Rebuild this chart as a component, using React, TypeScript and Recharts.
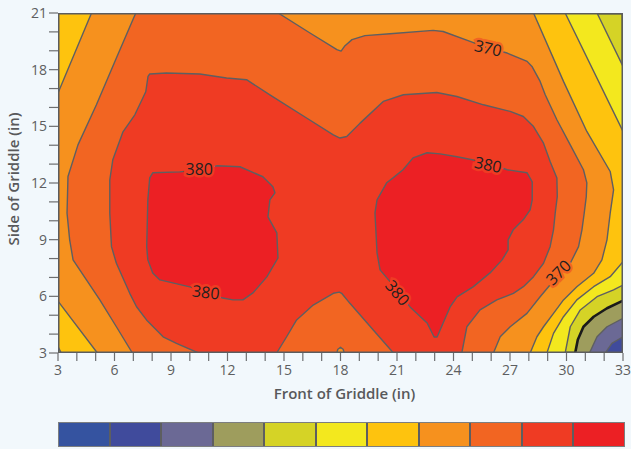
import { ScatterChart, Scatter, XAxis, YAxis } from 'recharts';

// colour of each 5-degree band, from below 335 up to above 380
const levelColors = ['#3553a0', '#404b9c', '#6b6995', '#9e9d5d', '#d5d326', '#f3e81e', '#fec30e', '#f6911e', '#f26522', '#ef3b23', '#ec2024'];

const xTicks = [3, 4, 5, 6, 7, 8, 9, 10, 11, 12, 13, 14, 15, 16, 17, 18, 19, 20, 21, 22, 23, 24, 25, 26, 27, 28, 29, 30, 31, 32, 33];
const yTicks = [3, 4, 5, 6, 7, 8, 9, 10, 11, 12, 13, 14, 15, 16, 17, 18, 19, 20, 21];

// griddle outline (in)
const plotBox = [[3, 3], [3, 21], [33, 21], [33, 3]];

// regions hotter than each contour level
const above340 = [[3, 3], [3, 21], [33, 21], [33, 3.86], [32.41, 3.51], [32.06, 3]];
const above345 = [[3, 3], [3, 21], [33, 21], [33, 4.84], [32.15, 4.39], [31.62, 3.86], [31.22, 3]];
const above350 = [[3, 3], [3, 21], [33, 21], [33, 5.77], [32.15, 5.37], [31.44, 4.92], [30.9, 4.39], [30.6, 3.7], [30.46, 3]];
const above355 = [[3, 3], [3, 21], [31.62, 21], [33, 18.17], [33, 6.6], [32.5, 6.34], [31.62, 5.98], [30.73, 5.28], [30.2, 4.39], [29.93, 3]];
const above360 = [[3, 3.34], [3, 21], [29.93, 21], [33, 14.73], [33, 7.84], [32.32, 7.04], [31.44, 6.51], [30.55, 5.81], [29.84, 4.92], [29.31, 4.04], [28.96, 3], [3.17, 3]];
const above365 = [
  [3, 5.75], [3, 16.76], [4.78, 21], [28.25, 21], [29.84, 17.38], [31.08, 14.73], [32.32, 12.61], [32.5, 11.64], [32.32, 10.4],
  [32.15, 8.99], [31.88, 7.93], [31.44, 7.22], [30.55, 6.51], [29.84, 5.81], [29.31, 5.1], [28.78, 4.39], [28.43, 3.86], [28.07, 3], [5.09, 3],
];
const above370 = [
  [7.13, 21], [6.1, 18.62], [5.04, 16.14], [4.06, 14.02], [3.53, 12.34], [3.48, 10.4], [3.62, 8.99], [3.8, 7.93], [4.51, 6.87],
  [5.22, 5.81], [6.1, 4.39], [6.95, 3], [26.12, 3], [26.48, 3.86], [27.01, 4.39], [27.9, 5.1], [28.6, 5.98], [29.49, 7.04],
  [30.2, 7.75], [30.64, 8.63], [30.82, 9.52], [30.94, 10.4], [31.05, 11.28], [31.08, 12.01], [30.9, 12.7], [30.2, 14.02],
  [29.49, 15.35], [28.87, 16.67], [28.6, 17.38], [28.18, 18.15], [27.91, 18.44], [26.85, 18.88], [25.79, 19.16], [24.88, 19.5],
  [23.45, 20.02], [22.92, 20.08], [20.63, 19.9], [19.3, 19.8], [18.61, 19.59], [18.24, 19.27], [18.03, 18.98], [17.81, 19.06],
  [16.38, 19.94], [14.69, 21],
];
const pocket370 = [[17.8, 3], [17.86, 3.2], [18, 3.3], [18.14, 3.2], [18.2, 3]];
const above375 = [
  [10.46, 3], [9.29, 3.51], [8.58, 3.86], [7.7, 4.75], [7.17, 5.45], [6.81, 6.16], [6.1, 7.75], [5.84, 8.63], [5.75, 10.4],
  [5.75, 12.17], [5.91, 13.23], [6.45, 14.71], [7.08, 15.61], [7.66, 16.83], [7.78, 17.64], [7.87, 17.77], [8.76, 17.82],
  [10.53, 17.77], [11.95, 17.56], [13.01, 17.47], [14.25, 16.67], [16.2, 15.44], [17.62, 14.55], [17.97, 14.38], [18.33, 14.46],
  [19.04, 15.17], [20.27, 16.32], [21.34, 16.67], [23.11, 16.79], [24.18, 16.58], [25.59, 16.14], [27.01, 15.79], [27.71, 15.52],
  [28.25, 14.99], [28.78, 14.11], [29.13, 13.14], [29.49, 12.26], [29.51, 11.28], [29.4, 10.4], [29.31, 9.52], [29.13, 8.63],
  [28.78, 7.75], [28.25, 7.04], [27.71, 6.51], [27.18, 6.16], [26.3, 5.81], [25.41, 5.28], [24.71, 4.39], [24.44, 3],
  [20.81, 3], [19.74, 4.22], [18.5, 5.63], [18.06, 6.16], [17.94, 6.22], [17.62, 6.16], [16.55, 5.54], [15.67, 4.75],
  [15.14, 3.86], [14.61, 3],
];
const above380Left = [
  [7.87, 12.27], [8.03, 12.54], [9.47, 12.59], [10.53, 12.7], [11.43, 12.91], [12.66, 12.86], [13.88, 12.33], [14.41, 11.8],
  [14.52, 11.48], [14.25, 11.11], [14.15, 10.21], [14.62, 9.36], [14.68, 8.03], [14.09, 7.03], [13.35, 6.18], [12.82, 5.81],
  [12.29, 5.81], [11.75, 5.91], [10.9, 6.23], [10.0, 6.5], [8.41, 6.87], [8.03, 7.24], [7.77, 7.93], [7.71, 8.62], [7.77, 11.11],
];
const above380Right = [
  [20.45, 12.01], [20.79, 12.27], [21.32, 12.7], [21.85, 13.33], [22.6, 13.6], [23.29, 13.54], [24.19, 13.39], [25.79, 13.07],
  [26.85, 12.7], [27.91, 12.54], [28.18, 12.06], [28.18, 11.11], [28.07, 10.58], [27.7, 10.05], [27.17, 9.52], [26.9, 8.99],
  [26.9, 8.46], [26.58, 7.93], [25.94, 7.24], [25.04, 6.5], [24.19, 5.97], [23.82, 5.44], [23.45, 4.59], [23.13, 3.85],
  [22.97, 3.85], [22.6, 4.59], [21.69, 5.44], [21.0, 6.34], [20.1, 7.4], [19.94, 8.3], [19.83, 10.42], [19.94, 11.11],
];

const contourLabels = [
  { x: 10.5, y: 12.75, text: '380' },
  { x: 10.85, y: 6.23, text: '380' },
  { x: 25.84, y: 12.98, text: '380' },
  { x: 21.03, y: 6.2, text: '380' },
  { x: 25.84, y: 19.15, text: '370' },
  { x: 29.56, y: 7.27, text: '370' },
];
const labelAngles = [0, 7, 12, 50, 13, -45];

const font = '"Open Sans", sans-serif';
const lineGray = '#5e5f61';

const toPts = (a: number[][]) => a.map(([x, y]) => ({ x, y }));

const polygon = (fill: string, stroke: string, width: number) => (p: any) => {
  const pts = p.points || [];
  const d = pts.map((q: any, i: number) => `${i ? 'L' : 'M'}${q.x},${q.y}`).join(' ') + ' Z';
  return <path d={d} fill={fill} stroke={stroke} strokeWidth={width} strokeLinejoin="round" />;
};

const NoDot = () => <g />;

const LabelText = (props: any) => {
  const { cx, cy, payload } = props;
  const halo = payload.text === '380' ? levelColors[9] : levelColors[8];
  return (
    <text
      x={cx}
      y={cy}
      transform={`rotate(${payload.angle} ${cx} ${cy})`}
      textAnchor="middle"
      dominantBaseline="central"
      fontSize={16}
      fontFamily={font}
      fill="#231f20"
      stroke={halo}
      strokeWidth={5}
      paintOrder="stroke"
    >
      {payload.text}
    </text>
  );
};

const layers: { data: number[][]; color: string; stroke: string; width: number }[] = [
  { data: plotBox, color: levelColors[1], stroke: 'none', width: 0 },
  { data: above340, color: levelColors[2], stroke: lineGray, width: 1.4 },
  { data: above345, color: levelColors[3], stroke: lineGray, width: 1.4 },
  { data: above350, color: levelColors[4], stroke: '#1a1a1a', width: 2.6 },
  { data: above355, color: levelColors[5], stroke: lineGray, width: 1.4 },
  { data: above360, color: levelColors[6], stroke: lineGray, width: 1.4 },
  { data: above365, color: levelColors[7], stroke: lineGray, width: 1.4 },
  { data: above370, color: levelColors[8], stroke: lineGray, width: 1.4 },
  { data: pocket370, color: levelColors[7], stroke: lineGray, width: 1.4 },
  { data: above375, color: levelColors[9], stroke: lineGray, width: 1.4 },
  { data: above380Left, color: levelColors[10], stroke: lineGray, width: 1.4 },
  { data: above380Right, color: levelColors[10], stroke: lineGray, width: 1.4 },
];

export default function App() {
  const labelTable = contourLabels.map((l, i) => ({ ...l, angle: labelAngles[i] }));
  const fmt = (v: number) => (v % 3 === 0 ? String(v) : '');

  return (
    <div style={{ position: 'absolute', left: 0, top: 0, width: 631, height: 449, background: '#f2f8fc', fontFamily: font }}>
      <ScatterChart width={631} height={449} margin={{ top: 13, right: 8, bottom: 46, left: 0 }}>
        <XAxis
          type="number"
          dataKey="x"
          domain={[3, 33]}
          ticks={xTicks}
          interval={0}
          allowDataOverflow
          height={50}
          tickSize={8}
          tickMargin={4}
          axisLine={false}
          tickLine={{ stroke: '#6d6e70', strokeWidth: 1.2 }}
          tick={{ fill: '#5d5e60', fontSize: 14, fontFamily: font }}
          tickFormatter={fmt}
          label={{ value: 'Front of Griddle (in)', position: 'insideBottom', offset: 4, dx: 4, style: { fill: '#58595b', fontSize: 15, fontWeight: 600, fontFamily: font } }}
        />
        <YAxis
          type="number"
          dataKey="y"
          domain={[3, 21]}
          ticks={yTicks}
          interval={0}
          allowDataOverflow
          width={58}
          tickSize={9}
          tickMargin={2}
          axisLine={false}
          tickLine={{ stroke: '#6d6e70', strokeWidth: 1.2 }}
          tick={{ fill: '#5d5e60', fontSize: 14, fontFamily: font }}
          tickFormatter={fmt}
          label={{ value: 'Side of Griddle (in)', angle: -90, position: 'insideLeft', offset: 14, dy: -4, style: { textAnchor: 'middle', fill: '#58595b', fontSize: 15, fontWeight: 600, fontFamily: font } }}
        />
        {layers.map((l, i) => (
          <Scatter
            key={i}
            data={toPts(l.data)}
            isAnimationActive={false}
            line={polygon(l.color, l.stroke, l.width)}
            shape={NoDot}
            legendType="none"
          />
        ))}
        <Scatter data={labelTable} isAnimationActive={false} shape={LabelText} legendType="none" />
        <Scatter data={toPts(plotBox)} isAnimationActive={false} line={polygon('none', '#5b5c5e', 3)} shape={NoDot} legendType="none" />
      </ScatterChart>
      <div style={{ position: 'absolute', left: 58, top: 422, width: 567, height: 25, display: 'flex', boxSizing: 'border-box', border: '1.5px solid #7c7e80' }}>
        {levelColors.map((c, i) => (
          <div key={i} style={{ flex: 1, background: c, borderLeft: i ? '2px solid #5d5e60' : 'none' }} />
        ))}
      </div>
    </div>
  );
}
